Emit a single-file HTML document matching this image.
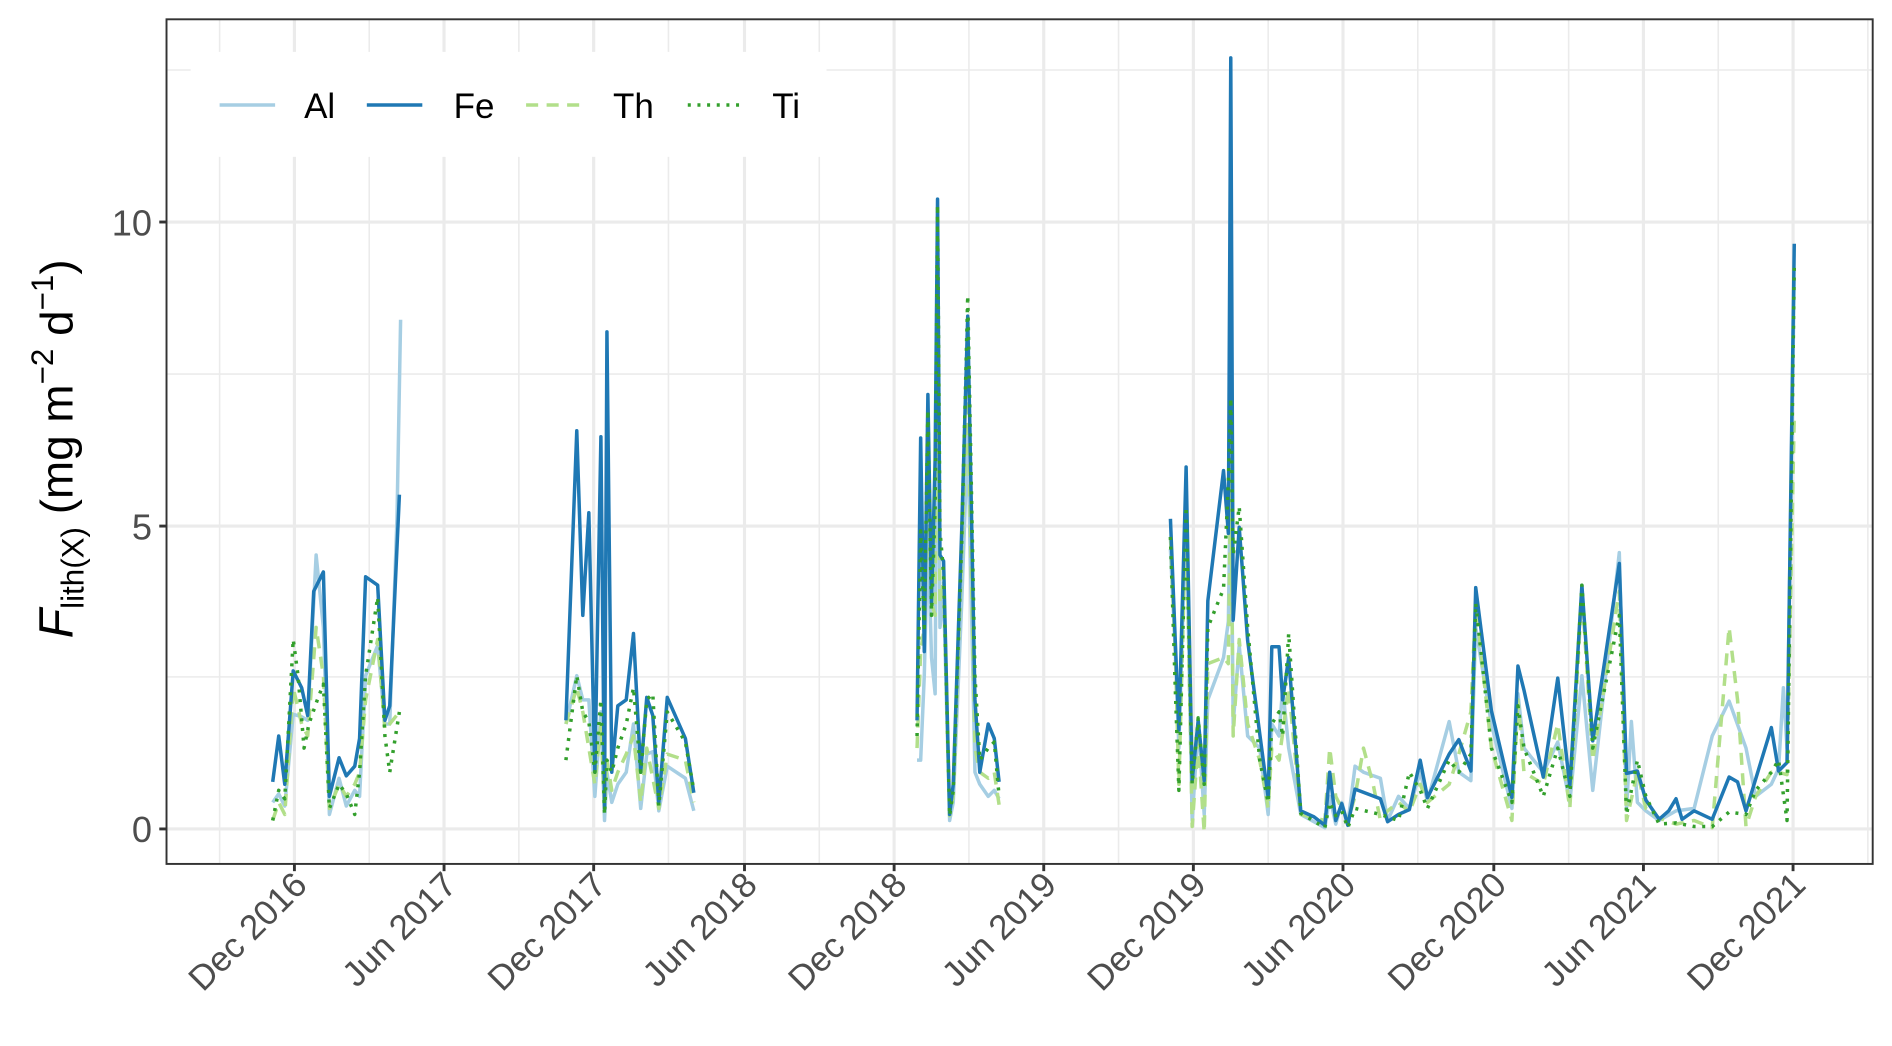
<!DOCTYPE html>
<html><head><meta charset="utf-8"><style>html,body{margin:0;padding:0;background:#fff}svg{display:block}</style></head><body>
<svg width="1892" height="1046" viewBox="0 0 1568 866.9" preserveAspectRatio="none" xmlns="http://www.w3.org/2000/svg" font-family="Liberation Sans, Arial, sans-serif">
<rect x="0" y="0" width="1568" height="867" fill="#fff"/>
<g stroke="#ebebeb" stroke-width="1.3">
<line x1="138" x2="1552" y1="561" y2="561"/><line x1="138" x2="1552" y1="310" y2="310"/><line x1="138" x2="1552" y1="58" y2="58"/>
<line x1="182" x2="182" y1="16" y2="716"/><line x1="306" x2="306" y1="16" y2="716"/><line x1="430" x2="430" y1="16" y2="716"/><line x1="554" x2="554" y1="16" y2="716"/><line x1="679" x2="679" y1="16" y2="716"/><line x1="803" x2="803" y1="16" y2="716"/><line x1="927" x2="927" y1="16" y2="716"/><line x1="1051" x2="1051" y1="16" y2="716"/><line x1="1175" x2="1175" y1="16" y2="716"/><line x1="1300" x2="1300" y1="16" y2="716"/><line x1="1424" x2="1424" y1="16" y2="716"/><line x1="1548" x2="1548" y1="16" y2="716"/>
</g>
<g stroke="#ebebeb" stroke-width="2.6">
<line x1="138" x2="1552" y1="687" y2="687"/><line x1="138" x2="1552" y1="436" y2="436"/><line x1="138" x2="1552" y1="184" y2="184"/>
<line x1="244" x2="244" y1="16" y2="716"/><line x1="368" x2="368" y1="16" y2="716"/><line x1="492" x2="492" y1="16" y2="716"/><line x1="617" x2="617" y1="16" y2="716"/><line x1="741" x2="741" y1="16" y2="716"/><line x1="865" x2="865" y1="16" y2="716"/><line x1="989" x2="989" y1="16" y2="716"/><line x1="1113" x2="1113" y1="16" y2="716"/><line x1="1238" x2="1238" y1="16" y2="716"/><line x1="1362" x2="1362" y1="16" y2="716"/><line x1="1486" x2="1486" y1="16" y2="716"/>
</g>
<g fill="none" stroke-linejoin="round" stroke-width="2.9">
<g stroke="#a6cee3">
<polyline points="226,665 231,658 236,668 243,592 250,594 255,597 262,460 268,520 273,675 281,645 287,668 294,655 298,660 303,560 313,535 319,600 323,600 329,430 332,265"/>
<polyline points="469,600 478,560 483,580 488,580 493,660 498,590 501,680 503,640 507,665 512,650 519,640 525,600 531,670 536,625 541,623 546,672 553,635 568,645 575,672"/>
<polyline points="760,630 763,630 766,560 769,440 772,545 775,575 777,200 779,520 782,490 787,680 790,665 797,500 802,360 808,640 812,650 819,660 824,655 828,662"/>
<polyline points="970,455 974,540 977,620 983,420 988,680 993,600 998,675 1001,580 1014,545 1018,515 1020,380 1022,600 1027,535 1034,610 1044,620 1051,675 1054,600 1060,610 1063,570 1068,620 1078,675 1098,686 1102,660 1107,683 1112,665 1117,683 1123,635 1130,640 1144,645 1150,680 1159,660 1168,670 1177,640 1183,664 1201,598 1209,640 1219,647 1223,520 1236,600 1253,670 1258,575 1263,620 1279,640 1291,615 1301,665 1311,560 1320,655 1342,458 1348,670 1352,598 1357,665 1364,672 1375,680 1389,672 1404,670 1419,610 1433,581 1447,620 1455,660 1468,650 1474,637 1478,570 1481,620 1487,230"/>
</g>
<g stroke="#b2df8a" stroke-dasharray="10,7">
<polyline points="226,680 231,665 236,675 243,570 250,600 255,610 262,520 268,560 273,670 281,650 287,660 294,650 298,640 303,580 313,530 319,605 323,600 331,590"/>
<polyline points="469,600 478,570 483,590 493,650 498,600 501,670 503,630 507,655 512,640 519,625 525,610 531,665 536,620 546,670 553,625 568,630 575,665"/>
<polyline points="760,620 763,540 766,520 769,400 772,500 775,510 777,180 779,500 782,480 787,676 790,660 797,460 802,330 808,620 812,640 819,645 824,640 828,667"/>
<polyline points="970,445 974,540 977,650 983,420 988,685 993,615 998,690 1001,550 1014,545 1018,550 1020,390 1022,610 1027,530 1034,600 1044,630 1051,670 1054,620 1060,630 1068,570 1078,675 1098,680 1102,620 1107,660 1112,670 1117,680 1123,660 1130,620 1138,650 1144,680 1150,672 1159,665 1168,673 1177,650 1183,665 1201,650 1209,625 1219,590 1223,500 1236,620 1253,680 1258,580 1263,640 1279,650 1291,600 1301,670 1311,490 1320,630 1342,490 1348,680 1357,640 1364,670 1375,678 1389,683 1404,680 1419,686 1433,520 1440,580 1447,685 1455,660 1468,640 1474,640 1481,642 1487,345"/>
</g>
<g stroke="#1f78b4">
<polyline points="226,648 231,610 236,650 243,556 250,570 255,593 260,490 268,474 273,660 281,628 287,643 294,635 298,612 303,478 313,485 319,597 323,585 331,410"/>
<polyline points="469,597 478,357 483,510 488,425 493,640 498,362 501,670 503,275 507,640 512,585 519,580 525,525 531,640 536,578 541,593 546,665 553,578 568,612 575,657"/>
<polyline points="760,597 763,363 766,540 769,327 772,500 775,380 777,165 779,460 782,465 787,675 790,650 797,440 802,262 808,580 812,640 819,600 824,612 828,648"/>
<polyline points="970,430 974,531 977,605 983,387 988,647 993,597 998,647 1001,498 1014,390 1018,442 1020,48 1022,514 1027,437 1034,531 1044,608 1051,661 1054,536 1060,536 1063,580 1068,545 1078,672 1089,677 1098,684 1102,640 1107,680 1112,666 1117,684 1123,654 1144,662 1150,681 1159,675 1168,671 1177,630 1183,661 1201,625 1209,613 1219,639 1223,487 1236,589 1253,661 1258,552 1263,572 1279,644 1291,562 1301,652 1311,485 1320,614 1342,467 1348,641 1357,639 1364,663 1375,679 1383,672 1389,662 1394,679 1404,672 1419,679 1433,644 1440,648 1447,672 1468,603 1474,639 1481,632 1487,202"/>
</g>
<g stroke="#33a02c" stroke-dasharray="2.5,5.5">
<polyline points="226,680 231,655 236,662 243,530 247,560 252,620 256,600 263,580 268,567 273,670 281,650 287,658 294,675 298,640 303,560 313,495 319,610 323,640 331,590"/>
<polyline points="469,630 478,560 483,590 488,598 493,640 498,580 501,675 503,630 507,640 512,620 519,600 525,570 531,640 536,580 541,575 546,668 553,590 568,615 575,655"/>
<polyline points="760,610 763,440 766,520 769,340 772,510 775,420 777,170 779,440 782,475 787,676 790,655 797,450 802,245 808,560 812,630 819,620 824,615 828,660"/>
<polyline points="970,445 974,570 977,655 983,420 988,650 993,595 998,650 1001,520 1014,488 1018,400 1020,330 1022,460 1027,420 1034,520 1044,630 1051,665 1054,600 1060,590 1063,610 1068,525 1078,674 1098,686 1102,665 1107,676 1112,672 1117,686 1123,670 1144,675 1159,680 1168,640 1177,655 1183,670 1201,630 1209,640 1219,625 1223,500 1236,620 1253,665 1258,585 1263,620 1279,660 1291,620 1301,660 1311,485 1320,620 1342,510 1348,675 1357,630 1364,660 1375,683 1389,682 1404,685 1419,685 1433,673 1447,675 1455,655 1468,640 1474,630 1481,680 1487,220"/>
</g>
</g>
<rect x="158" y="43" width="527" height="87" fill="#fff"/>
<g stroke-width="2.9">
<line x1="182" x2="228" y1="87" y2="87" stroke="#a6cee3"/>
<line x1="304" x2="350" y1="87" y2="87" stroke="#1f78b4"/>
<line x1="436" x2="482" y1="87" y2="87" stroke="#b2df8a" stroke-dasharray="10,7"/>
<line x1="570" x2="616" y1="87" y2="87" stroke="#33a02c" stroke-dasharray="2.5,5.5"/>
</g>
<g font-size="29" fill="#000">
<text x="252" y="98">Al</text><text x="376" y="98">Fe</text><text x="508" y="98">Th</text><text x="640" y="98">Ti</text>
</g>
<rect x="138" y="16" width="1414" height="700" fill="none" stroke="#333" stroke-width="1.6"/>
<g stroke="#333" stroke-width="2.4">
<line x1="132" x2="138" y1="687" y2="687"/><line x1="132" x2="138" y1="436" y2="436"/><line x1="132" x2="138" y1="184" y2="184"/>
<line x1="244" x2="244" y1="716" y2="722"/><line x1="368" x2="368" y1="716" y2="722"/><line x1="492" x2="492" y1="716" y2="722"/><line x1="617" x2="617" y1="716" y2="722"/><line x1="741" x2="741" y1="716" y2="722"/><line x1="865" x2="865" y1="716" y2="722"/><line x1="989" x2="989" y1="716" y2="722"/><line x1="1113" x2="1113" y1="716" y2="722"/><line x1="1238" x2="1238" y1="716" y2="722"/><line x1="1362" x2="1362" y1="716" y2="722"/><line x1="1486" x2="1486" y1="716" y2="722"/>
</g>
<g font-size="30" fill="#4d4d4d" text-anchor="end">
<text x="126" y="698">0</text><text x="126" y="447">5</text><text x="126" y="195">10</text>
</g>
<g font-size="29" fill="#4d4d4d" text-anchor="end">
<text transform="translate(256,735) rotate(-45)">Dec 2016</text>
<text transform="translate(380,735) rotate(-45)">Jun 2017</text>
<text transform="translate(504,735) rotate(-45)">Dec 2017</text>
<text transform="translate(629,735) rotate(-45)">Jun 2018</text>
<text transform="translate(753,735) rotate(-45)">Dec 2018</text>
<text transform="translate(877,735) rotate(-45)">Jun 2019</text>
<text transform="translate(1001,735) rotate(-45)">Dec 2019</text>
<text transform="translate(1125,735) rotate(-45)">Jun 2020</text>
<text transform="translate(1250,735) rotate(-45)">Dec 2020</text>
<text transform="translate(1374,735) rotate(-45)">Jun 2021</text>
<text transform="translate(1498,735) rotate(-45)">Dec 2021</text>
</g>
<text transform="translate(60,372) rotate(-90)" text-anchor="middle" font-size="38" fill="#000"><tspan font-style="italic" font-size="40">F</tspan><tspan font-size="26" dy="9">lith(X)</tspan><tspan dy="-9"> (mg m</tspan><tspan font-size="26" dy="-16">−2</tspan><tspan dy="16"> d</tspan><tspan font-size="26" dy="-16">−1</tspan><tspan dy="16">)</tspan></text>
</svg>
</body></html>
